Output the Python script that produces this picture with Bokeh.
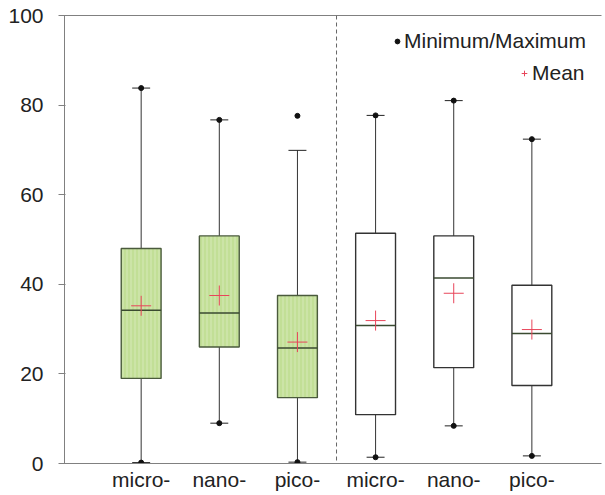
import numpy as np
from bokeh.plotting import figure
from bokeh.models import (ColumnDataSource, Range1d, FixedTicker, LinearAxis, Span,
                          Legend, LegendItem, CDSView, IndexFilter)
from bokeh.embed import file_html
from bokeh.resources import INLINE

# ---- data ----
categories = ["micro-", "nano-", "pico-", "micro-", "nano-", "pico-"]
box_fill = ["#c2df96", "#c2df96", "#c2df96", "#ffffff", "#ffffff", "#ffffff"]
q1 = [19.0, 26.0, 14.7, 10.9, 21.4, 17.4]
median = [34.2, 33.6, 25.8, 30.8, 41.4, 29.0]
q3 = [48.0, 50.8, 37.5, 51.4, 50.8, 39.8]
mean = [35.2, 37.5, 27.1, 31.9, 38.0, 29.9]
whisker_low = [0.2, 9.0, 0.3, 1.4, 8.4, 1.7]
whisker_high = [83.8, 76.7, 69.9, 77.7, 81.0, 72.4]
minimum = [0.2, 9.0, 0.3, 1.4, 8.4, 1.7]
maximum = [83.8, 76.7, 77.6, 77.7, 81.0, 72.4]
y_ticks = [0, 20, 40, 60, 80, 100]

pos = np.arange(1, len(categories) + 1)
box_w = 0.51
cap_w = 0.23

src = ColumnDataSource(dict(
    x=pos, q1=q1, q3=q3, med=median, mean=mean, wl=whisker_low, wh=whisker_high,
    mn=minimum, mx=maximum, fill=box_fill,
    bx0=pos - box_w / 2, bx1=pos + box_w / 2,
    cx0=pos - cap_w / 2, cx1=pos + cap_w / 2,
))
green_idx = [i for i, f in enumerate(box_fill) if f != "#ffffff"]
white_idx = [i for i, f in enumerate(box_fill) if f == "#ffffff"]

FONT = "Liberation Sans"
FS = "21px"
AX = "#808080"

p = figure(width=603, height=493, x_range=Range1d(0.019, 6.891), y_range=Range1d(0, 100),
           output_backend="svg", toolbar_location=None,
           min_border_left=64, min_border_top=15, min_border_right=2, min_border_bottom=0)
p.outline_line_color = None
p.xgrid.visible = False
p.ygrid.visible = False
p.background_fill_color = "white"

# whiskers
p.segment(x0="x", x1="x", y0="q3", y1="wh", source=src, line_color="#333333", line_width=1)
p.segment(x0="x", x1="x", y0="q1", y1="wl", source=src, line_color="#333333", line_width=1)
# caps
p.segment(x0="cx0", x1="cx1", y0="wh", y1="wh", source=src, line_color="#222222", line_width=1)
p.segment(x0="cx0", x1="cx1", y0="wl", y1="wl", source=src, line_color="#222222", line_width=1)

# boxes
p.vbar(x="x", width=box_w, bottom="q1", top="q3", source=src,
       view=CDSView(filter=IndexFilter(green_idx)),
       fill_color="fill", line_color="#4a5a3c", line_width=1.4,
       hatch_pattern="vertical_line", hatch_color="#eef7e2", hatch_alpha=0.45,
       hatch_scale=4, hatch_weight=1)
p.vbar(x="x", width=box_w, bottom="q1", top="q3", source=src,
       view=CDSView(filter=IndexFilter(white_idx)),
       fill_color="fill", line_color="#333333", line_width=1.4)
# medians
p.segment(x0="bx0", x1="bx1", y0="med", y1="med", source=src, line_color="#3a4a30", line_width=1.5)

# min / max dots
dots = p.scatter(x="x", y="mx", source=src, marker="circle", size=5,
                 fill_color="#111111", line_color="#111111")
p.scatter(x="x", y="mn", source=src, marker="circle", size=5,
          fill_color="#111111", line_color="#111111")
# means
means = p.scatter(x="x", y="mean", source=src, marker="cross", size=20,
                  line_color="#e8455a", line_width=1)

# group separator
p.add_layout(Span(location=3.5, dimension="height", line_color="#666666",
                  line_dash="4 3", line_width=1))

# axes
p.yaxis.ticker = FixedTicker(ticks=y_ticks)
p.yaxis.axis_line_color = AX
p.yaxis.major_tick_line_color = AX
p.yaxis.major_tick_out = 6
p.yaxis.major_tick_in = 1
p.yaxis.minor_tick_line_color = None
p.yaxis.major_label_text_font = FONT
p.yaxis.major_label_text_font_size = FS
p.yaxis.major_label_text_color = "#222222"
p.yaxis.major_label_standoff = 15

p.xaxis.ticker = FixedTicker(ticks=list(pos))
p.xaxis.major_label_overrides = {int(x): c for x, c in zip(pos, categories)}
p.xaxis.axis_line_color = AX
p.xaxis.major_tick_line_color = None
p.xaxis.minor_tick_line_color = None
p.xaxis.major_tick_out = 0
p.xaxis.major_tick_in = 0
p.xaxis.minor_tick_out = 0
p.xaxis.minor_tick_in = 0
p.xaxis.major_label_text_font = FONT
p.xaxis.major_label_text_font_size = FS
p.xaxis.major_label_text_color = "#222222"
p.xaxis.major_label_standoff = 4

top = LinearAxis(ticker=FixedTicker(ticks=[]), major_label_text_font_size="0px",
                 axis_line_color=AX, major_tick_line_color=None, minor_tick_line_color=None,
                 major_tick_out=0, major_tick_in=0, minor_tick_out=0, minor_tick_in=0)
p.add_layout(top, "above")

# legends
common = dict(label_text_font=FONT, label_text_font_size=FS, label_text_color="#222222",
              padding=0, margin=0, border_line_color=None, background_fill_alpha=0,
              spacing=0, label_standoff=1, glyph_height=20, label_height=20)
leg1 = Legend(items=[LegendItem(label="Minimum/Maximum", renderers=[dots])],
              location=(327, 410), glyph_width=12, **common)
leg2 = Legend(items=[LegendItem(label="Mean", renderers=[means])],
              location=(453, 378), glyph_width=14, **common)
p.add_layout(leg1)
p.add_layout(leg2)

open("out.html", "w").write(file_html(p, INLINE))
